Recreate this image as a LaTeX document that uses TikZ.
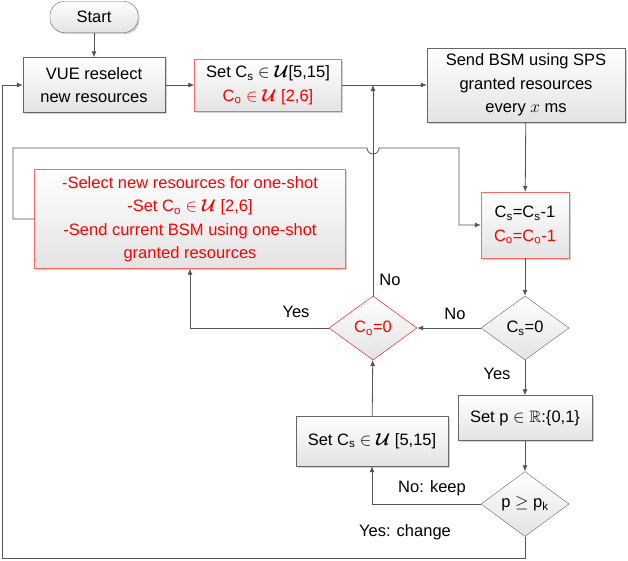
\documentclass[tikz,border=0pt]{standalone}
\usepackage{fontspec}
\setmainfont{Liberation Sans}
\usepackage{amsmath,amssymb,bm}
\usetikzlibrary{arrows.meta,shapes.geometric,shadows}
\begin{document}
\begin{tikzpicture}[x=1pt,y=-1pt,font=\fontsize{16.5}{23.5}\selectfont,
  box/.style={draw=gray!80!black,top color=white,bottom color=gray!22,drop shadow={opacity=0.35,shadow xshift=1.5pt,shadow yshift=-1.5pt},align=center,inner sep=0pt},
  rbox/.style={box,draw=red!60},
  dia/.style={diamond,draw=gray!80!black,top color=white,bottom color=gray!22,inner sep=0pt,aspect=1.35},
  ln/.style={draw=gray!65!black,line width=0.8pt},
  ar/.style={ln,-{Latex[length=6pt,width=5pt]}},
  lab/.style={inner sep=0pt}]
\useasboundingbox (0,0) rectangle (628,560);
\node[box,rounded corners=14pt,minimum width=88pt,minimum height=31pt] (start) at (94,17) {Start};
\node[box,minimum width=142pt,minimum height=55pt] (vue) at (94,85) {VUE reselect\\new resources};
\node[rbox,minimum width=147pt,minimum height=52pt] (set) at (268,85) {Set C\textsubscript{s} $\in\bm{\mathcal{U}}$[5,15]\\\textcolor{red}{C\textsubscript{o} $\in\bm{\mathcal{U}}$ [2,6]}};
\node[box,minimum width=198pt,minimum height=74pt] (send) at (526,85) {Send BSM using SPS\\granted resources\\every $x$ ms};
\node[rbox,minimum width=88pt,minimum height=66pt] (dec) at (525,225) {C\textsubscript{s}=C\textsubscript{s}-1\\\textcolor{red}{C\textsubscript{o}=C\textsubscript{o}-1}};
\node[rbox,minimum width=311pt,minimum height=99pt,text=red] (one) at (190,219) {-Select new resources for one-shot\\-Set C\textsubscript{o} $\in\bm{\mathcal{U}}$ [2,6]\\-Send current BSM using one-shot\\granted resources};
\node[dia,draw=red,minimum width=88pt,minimum height=64pt,text=red] (co) at (373,328) {C\textsubscript{o}=0};
\node[dia,minimum width=88pt,minimum height=64pt] (cs) at (525,328) {C\textsubscript{s}=0};
\node[box,minimum width=134pt,minimum height=45pt] (setp) at (525,418) {Set p $\in\mathbb{R}$:\{0,1\}};
\node[dia,minimum width=88pt,minimum height=65pt] (p) at (525,504) {p $\geq$ p\textsubscript{k}};
\node[box,minimum width=152pt,minimum height=50pt] (setcs) at (372,441) {Set C\textsubscript{s} $\in\bm{\mathcal{U}}$ [5,15]};
\coordinate (j1) at (373,85);
\draw[ar] (start) -- (vue);
\draw[ar] (vue) -- (set);
\draw[ar] (set) -- (send);
\draw[ar] (send) -- (dec);
\draw[ar] (dec) -- (cs);
\draw[ar] (cs) -- (co);
\draw[ar] (co) -- (j1);
\draw[ar] (co.west) -| (one.south);
\draw[ar] (one.west) -- (13,219) -- (13,148) -- (367,148) arc (180:0:6) -- (459,148) |- (dec.west);
\draw[ar] (cs) -- (setp);
\draw[ar] (setp) -- (p);
\draw[ar] (p.west) -| (setcs.south);
\draw[ar] (setcs) -- (co);
\draw[ar] (p.south) -- (525,558) -- (2,558) |- (vue.west);
\node[lab] at (296,312) {Yes};
\node[lab] at (455,314) {No};
\node[lab] at (390,280) {No};
\node[lab] at (497,374) {Yes};
\node[lab] at (432,488) {No: keep};
\node[lab] at (405,532) {Yes: change};
\end{tikzpicture}
\end{document}
